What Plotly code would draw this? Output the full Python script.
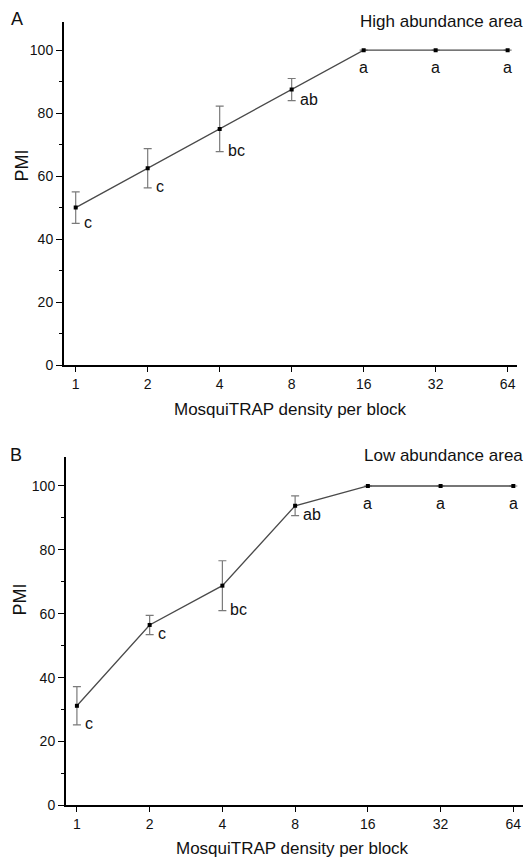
import math
import plotly.graph_objects as go

density = [1, 2, 4, 8, 16, 32, 64]
tick_labels = ["1", "2", "4", "8", "16", "32", "64"]

high_pmi = [50.0, 62.5, 75.0, 87.5, 100.0, 100.0, 100.0]
high_err = [5.0, 6.2, 7.2, 3.5, 0.0, 0.0, 0.0]
high_letters = ["c", "c", "bc", "ab", "a", "a", "a"]

low_pmi = [31.2, 56.5, 68.8, 93.8, 100.0, 100.0, 100.0]
low_err = [6.0, 3.0, 7.8, 3.1, 0.0, 0.0, 0.0]
low_letters = ["c", "c", "bc", "ab", "a", "a", "a"]

W, H = 528, 865
FONT = "Liberation Sans, Arial, sans-serif"

def px(x):
    return x / W

def py(y):
    return 1 - y / H

fig = go.Figure()

panels = [
    dict(vals=high_pmi, err=high_err, letters=high_letters, xa="x", ya="y",
         xdom=[px(64), px(517)], ydom=[py(368.5), py(22)],
         xrange_pad=(0.1625, 0.13)),
    dict(vals=low_pmi, err=low_err, letters=low_letters, xa="x2", ya="y2",
         xdom=[px(66), px(523)], ydom=[py(813), py(461.5)],
         xrange_pad=(0.15, 0.133)),
]

for i, p in enumerate(panels):
    fig.add_trace(go.Scatter(
        x=density, y=p["vals"], xaxis=p["xa"], yaxis=p["ya"],
        mode="lines+markers",
        line=dict(color="#4a4a4a", width=1.3),
        marker=dict(symbol="square", size=4, color="#000000"),
        error_y=dict(type="data", array=p["err"], visible=True,
                     color="#7a7a7a", thickness=1.2, width=4),
        showlegend=False, hoverinfo="skip",
    ))
    suffix = "" if i == 0 else "2"
    lo = math.log10(1) - p["xrange_pad"][0] * math.log10(2)
    hi = math.log10(64) + p["xrange_pad"][1] * math.log10(2)
    fig.update_layout(**{
        "xaxis" + suffix: dict(
            domain=p["xdom"], anchor="y" + suffix, type="log",
            range=[lo, hi], tickvals=density, ticktext=tick_labels,
            showline=True, linecolor="#000000", linewidth=2,
            ticks="outside", ticklen=5, tickwidth=1.2, tickcolor="#000000",
            showgrid=False, zeroline=False,
            tickfont=dict(family=FONT, size=14, color="#111111"),
        ),
        "yaxis" + suffix: dict(
            domain=p["ydom"], anchor="x" + suffix,
            range=[0, 109], tickvals=[0, 20, 40, 60, 80, 100],
            showline=True, linecolor="#000000", linewidth=2,
            ticks="outside", ticklen=6, tickwidth=1.2, tickcolor="#000000",
            minor=dict(dtick=10, ticks="outside", ticklen=3, tickwidth=1, tickcolor="#000000"),
            showgrid=False, zeroline=False,
            tickfont=dict(family=FONT, size=14, color="#111111"),
        ),
    })
    for xv, yv, ev, lab in zip(density, p["vals"], p["err"], p["letters"]):
        if ev > 0:
            fig.add_annotation(x=math.log10(xv), y=yv - ev, xref=p["xa"], yref=p["ya"],
                               text=lab, showarrow=False, xanchor="left", yanchor="middle",
                               xshift=6, yshift=1,
                               font=dict(family=FONT, size=16, color="#111111"))
        else:
            fig.add_annotation(x=math.log10(xv), y=yv, xref=p["xa"], yref=p["ya"],
                               text=lab, showarrow=False, xanchor="center", yanchor="top",
                               yshift=-7,
                               font=dict(family=FONT, size=16, color="#111111"))

texts = [
    ("A", 17, 19, "center", 18, 0),
    ("B", 16, 459, "center", 18, 0),
    ("High abundance area", 525, 22, "right", 17, 0),
    ("Low abundance area", 525, 460, "right", 17, 0),
    ("MosquiTRAP density per block", 290, 413, "center", 17, 0),
    ("MosquiTRAP density per block", 292, 856, "center", 17, 0),
    ("PMI", 22, 167, "center", 18, -90),
    ("PMI", 20, 605, "center", 18, -90),
]
for t, x, y, xa, size, ang in texts:
    fig.add_annotation(x=px(x), y=py(y), xref="paper", yref="paper", text=t,
                       showarrow=False, xanchor=xa, yanchor="middle", textangle=ang,
                       font=dict(family=FONT, size=size, color="#111111"))

fig.update_layout(
    width=W, height=H,
    margin=dict(l=0, r=0, t=0, b=0),
    paper_bgcolor="white", plot_bgcolor="white",
)

fig.write_html(
    "out.html",
    config={"displayModeBar": False},
    post_script="document.body.style.margin='0';document.body.style.padding='0';"
                "document.body.style.overflow='hidden';"
                "document.documentElement.style.overflow='hidden';",
)
